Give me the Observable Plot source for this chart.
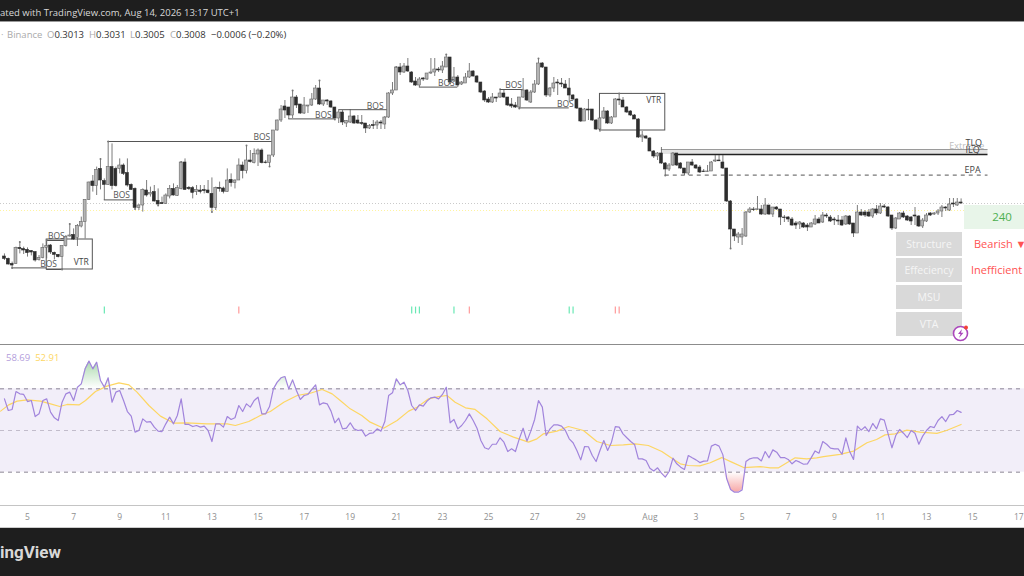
<!DOCTYPE html>
<html>
<head>
<meta charset="utf-8">
<script src="https://cdn.jsdelivr.net/npm/d3@7"></script>
<script src="https://cdn.jsdelivr.net/npm/@observablehq/plot@0.6"></script>
<style>
html,body{margin:0;padding:0;background:#fff;width:1024px;height:576px;overflow:hidden;font-family:"Open Sans",sans-serif}
#page{position:relative;width:1024px;height:576px;overflow:hidden}
#head{position:absolute;left:0;top:0;width:1024px;height:21px;background:#1e1e1e;color:#d8d8d8;font-size:9.5px;line-height:25px;white-space:nowrap;border-bottom:1px solid #999}
#foot{position:absolute;left:0;top:527px;width:1024px;height:49px;background:#1e1e1e;border-top:1px solid #ccc;box-sizing:border-box;color:#d8d8d8;font:700 17px/48px Roboto,sans-serif}
#legend{position:absolute;left:0;top:28px;height:14px;font-size:9.5px;line-height:14px;color:#333;white-space:nowrap}
#legend span{position:absolute;top:0}
#legend .g{color:#aaa}
#priceWrap,#rsiWrap{position:absolute;left:0}
#priceWrap{top:22px}
#rsiWrap{top:345px}
#sep{position:absolute;left:0;top:344px;width:1024px;height:1px;background:#8c8c8c}
#axisline{position:absolute;left:0;top:505px;width:1024px;height:1px;background:#c4c4c4}
#rsiLegend{position:absolute;left:6px;top:351px;font-size:9.5px;line-height:14px;white-space:nowrap}
.cell{position:absolute;left:896px;width:66px;height:24px;background:#d9d9d9;color:#f5f5f5;font-size:10.5px;line-height:24px;text-align:center}
.val{position:absolute;color:#ff5252;font-size:11px;line-height:24px;white-space:nowrap}
#tf{position:absolute;left:964px;top:205px;width:60px;height:24px;background:#e8f5e9;color:#4caf50;font-size:11.5px;line-height:24px;text-align:center;padding-left:16px;box-sizing:border-box}
#bolt{position:absolute;left:951px;top:323px}
</style>
</head>
<body>
<div id="page">
  <div id="head">ated with TradingView.com, Aug 14, 2026 13:17 UTC+1</div>
  <div id="priceWrap"></div>
  <div id="legend">
    <span class="g" style="left:1px">·</span><span class="g" style="left:7px">Binance</span>
    <span style="left:47px"><i class="g" style="font-style:normal">O</i>0.3013</span>
    <span style="left:89px"><i class="g" style="font-style:normal">H</i>0.3031</span>
    <span style="left:130px"><i class="g" style="font-style:normal">L</i>0.3005</span>
    <span style="left:170px"><i class="g" style="font-style:normal">C</i>0.3008</span>
    <span style="left:211px">−0.0006 (−0.20%)</span>
  </div>
  <div id="tf">240</div>
  <div class="cell" style="top:232px">Structure</div>
  <div class="cell" style="top:258px">Effeciency</div>
  <div class="cell" style="top:285px">MSU</div>
  <div class="cell" style="top:312px">VTA</div>
  <div class="val" style="left:974px;top:232px">Bearish ▼</div>
  <div class="val" style="left:971px;top:258px">Inefficient</div>
  <svg id="bolt" width="20" height="20" viewBox="0 0 20 20">
    <circle cx="9.5" cy="10.5" r="7" fill="#fff" stroke="#ab47bc" stroke-width="1.6"/>
    <path d="M11 6 L7 11 L9.5 11 L8 15 L12.5 9.8 L10 9.8 Z" fill="#ab47bc"/>
    <circle cx="15" cy="4.5" r="2" fill="#f44336"/>
  </svg>
  <div id="sep"></div>
  <div id="rsiWrap"></div>
  <div id="axisline"></div>
  <div id="rsiLegend"><span style="color:#b39ddb">58.69</span>&nbsp;&nbsp;<span style="color:#fdd663">52.91</span></div>
  <div id="foot">ingView</div>
</div>
<script>
// 4-hour candles, prices in ten-thousandths (2743 = 0.2743). Candle index 0 = Jul 4 00:00.
const opens = [
2743,2731,2706,2706,2786,2780,2776,2770,2765,2726,
2736,2786,2798,2761,2751,2740,2795,2843,2851,2836,
2893,2915,3026,3118,3095,3181,3120,3101,3190,3181,
3181,3198,3160,3101,3081,2986,2998,3073,3053,3065,
3021,3010,3006,3043,3081,3046,3081,3213,3086,3085,
3065,3073,3075,3073,3056,2986,3086,3083,3066,3126,
3111,3123,3198,3170,3223,3210,3253,3273,3213,3211,
3248,3373,3423,3493,3488,3448,3538,3503,3458,3493,
3498,3528,3583,3503,3523,3518,3488,3433,3463,3408,
3413,3443,3423,3410,3408,3383,3400,3398,3413,3403,
3438,3558,3573,3688,3663,3693,3663,3618,3598,3633,
3628,3658,3663,3678,3673,3688,3738,3618,3638,3603,
3608,3638,3668,3643,3613,3568,3528,3513,3538,3538,
3558,3538,3503,3498,3488,3538,3573,3513,3563,3603,
3708,3688,3548,3583,3613,3608,3603,3583,3548,3528,
3483,3418,3478,3478,3423,3378,3433,3468,3408,3438,
3528,3523,3488,3468,3448,3428,3338,3343,3333,3268,
3243,3258,3208,3178,3198,3258,3208,3183,3158,3213,
3198,3188,3168,3165,3168,3218,3223,3213,3183,3018,
2878,2838,2838,2843,2963,2978,2975,2978,2953,2998,
2953,2988,2978,2938,2938,2928,2908,2903,2908,2898,
2888,2903,2928,2913,2948,2938,2928,2923,2923,2903,
2943,2908,2858,2963,2963,2963,2943,2978,2958,2993,
2988,2948,2883,2928,2958,2943,2938,2948,2943,2893,
2918,2958,2953,2958,2968,2988,2973,3008,2998,3013];
const highs = [
2756,2735,2715,2790,2815,2790,2786,2773,2765,2748,
2806,2826,2803,2765,2753,2795,2848,2906,2881,2903,
2940,3026,3115,3148,3190,3231,3131,3318,3306,3190,
3231,3206,3231,3106,3086,3003,3081,3123,3090,3098,
3081,3040,3056,3098,3106,3098,3215,3231,3093,3093,
3098,3098,3098,3123,3136,3090,3115,3090,3181,3156,
3126,3231,3215,3298,3273,3281,3281,3281,3223,3248,
3373,3425,3498,3523,3488,3573,3548,3503,3538,3498,
3558,3598,3623,3523,3528,3523,3488,3473,3473,3423,
3478,3448,3448,3448,3408,3403,3423,3423,3423,3443,
3563,3613,3690,3708,3708,3733,3668,3638,3638,3638,
3658,3733,3733,3688,3718,3753,3738,3688,3648,3618,
3658,3708,3673,3648,3613,3573,3538,3558,3538,3583,
3573,3538,3533,3513,3538,3633,3578,3573,3623,3733,
3713,3688,3588,3638,3628,3633,3623,3633,3553,3533,
3483,3483,3528,3478,3428,3438,3488,3473,3443,3533,
3558,3538,3493,3473,3453,3433,3368,3348,3338,3273,
3263,3288,3213,3208,3263,3258,3213,3183,3213,3228,
3203,3198,3178,3198,3218,3248,3248,3248,3183,3023,
2878,2863,2883,2968,2988,2988,3043,2998,3033,2998,
2988,2993,2978,2948,2943,2938,2918,2918,2913,2908,
2913,2948,2938,2963,2958,2948,2938,2948,2943,2948,
2948,2908,2998,2978,2973,2978,2983,2998,3008,3003,
2993,2948,2938,2963,2968,2948,2943,2988,2948,2933,
2958,2963,2963,2978,2998,2993,3033,3033,3033,3031];
const lows = [
2723,2700,2686,2703,2756,2753,2740,2746,2715,2720,
2731,2731,2753,2726,2736,2678,2790,2840,2823,2793,
2886,2831,3023,3065,3048,3076,3023,3098,3076,3090,
3156,3148,3090,3073,2981,2973,2965,3040,3040,3015,
2998,3003,3003,3031,3045,3043,3076,3073,3073,3031,
3048,3056,3056,3056,2965,2973,3065,3056,3065,3090,
3081,3123,3131,3156,3210,3206,3193,3206,3206,3193,
3238,3370,3413,3433,3428,3433,3483,3453,3453,3458,
3493,3523,3498,3493,3498,3483,3428,3408,3398,3388,
3408,3403,3403,3398,3358,3378,3378,3378,3378,3378,
3433,3548,3573,3648,3658,3663,3608,3593,3588,3618,
3623,3653,3643,3663,3658,3688,3608,3613,3588,3598,
3608,3633,3640,3608,3558,3513,3508,3508,3513,3533,
3533,3493,3483,3483,3483,3533,3518,3508,3558,3598,
3683,3538,3538,3563,3548,3588,3583,3513,3523,3478,
3413,3418,3423,3418,3373,3363,3428,3403,3403,3438,
3498,3488,3458,3443,3428,3333,3313,3328,3268,3233,
3223,3203,3148,3168,3193,3193,3178,3148,3148,3193,
3178,3158,3163,3163,3168,3213,3218,3178,3013,2783,
2818,2808,2798,2838,2958,2968,2973,2948,2948,2948,
2938,2973,2898,2913,2913,2893,2878,2878,2883,2868,
2888,2898,2908,2908,2933,2913,2898,2898,2893,2898,
2898,2838,2858,2943,2938,2938,2933,2948,2953,2983,
2938,2873,2878,2928,2933,2918,2898,2898,2888,2883,
2913,2943,2948,2948,2938,2968,2968,2988,2993,3005];
const closes = [
2731,2703,2698,2786,2780,2773,2760,2763,2723,2736,
2786,2795,2763,2751,2740,2795,2840,2848,2828,2896,
2915,3026,3113,3095,3176,3123,3101,3190,3095,3095,
3198,3156,3098,3076,2986,2998,3076,3048,3061,3018,
3003,3005,3048,3081,3048,3086,3213,3076,3080,3061,
3076,3066,3070,3060,2986,3086,3081,3066,3123,3110,
3123,3198,3170,3223,3215,3256,3273,3210,3210,3248,
3373,3423,3478,3473,3448,3538,3498,3458,3498,3498,
3528,3583,3503,3523,3518,3488,3433,3463,3413,3420,
3443,3408,3408,3406,3383,3395,3395,3413,3408,3438,
3558,3573,3688,3663,3693,3668,3613,3598,3628,3628,
3658,3663,3678,3673,3693,3738,3613,3638,3598,3613,
3638,3668,3643,3613,3563,3523,3513,3538,3533,3558,
3538,3498,3493,3488,3538,3573,3523,3563,3603,3708,
3688,3548,3583,3608,3608,3603,3583,3548,3528,3483,
3418,3478,3473,3423,3378,3433,3468,3408,3438,3528,
3523,3488,3463,3448,3428,3338,3348,3333,3268,3243,
3258,3208,3178,3198,3258,3198,3183,3158,3213,3198,
3183,3163,3165,3168,3213,3223,3219,3183,3018,2878,
2843,2853,2853,2963,2978,2975,2979,2953,2998,2953,
2988,2978,2938,2935,2928,2898,2898,2913,2888,2888,
2908,2928,2908,2948,2943,2918,2923,2918,2898,2943,
2903,2858,2963,2948,2948,2943,2978,2958,2993,2988,
2943,2883,2933,2958,2938,2923,2918,2943,2893,2923,
2948,2948,2958,2968,2988,2983,3003,3003,3013,3008];

// RSI for every candle
const rsi = [
65.2,59.6,60.1,68.7,67.6,67.3,63.9,64.4,56.7,58.0,
64.4,65.2,58.8,56.1,54.8,63.6,67.6,68.4,64.4,70.8,
72.4,79.6,83.3,79.6,82.8,74.0,70.8,75.3,63.6,68.4,
69.2,64.4,59.1,56.9,49.2,50.0,55.6,54.0,54.3,51.6,
49.7,49.5,53.2,56.4,53.2,57.2,65.2,52.9,52.9,51.9,
52.4,51.6,52.1,50.0,44.7,53.2,53.2,51.6,56.7,55.3,
56.1,62.0,59.1,62.8,61.2,64.4,66.0,58.0,58.0,61.5,
70.0,73.2,75.3,75.9,70.0,74.3,69.2,64.9,66.8,67.3,
69.7,71.9,62.3,63.3,62.8,59.3,53.7,55.9,50.8,51.1,
53.7,50.8,50.0,50.3,47.3,48.6,48.9,50.8,49.7,54.3,
66.8,68.1,74.8,71.9,73.2,69.2,62.0,59.6,62.3,61.7,
64.1,65.7,66.0,65.2,67.3,70.8,53.7,55.3,50.8,52.4,
54.8,58.0,54.8,51.1,45.2,41.7,41.0,43.4,43.4,46.5,
44.4,39.9,41.2,39.9,46.0,51.1,44.9,49.7,55.3,64.4,
61.2,47.6,50.8,52.7,52.7,52.1,50.0,46.0,44.1,40.4,
35.9,42.3,42.2,38.0,35.1,40.4,45.2,40.4,44.4,51.9,
51.6,48.4,46.5,44.7,43.3,36.4,36.4,35.6,31.9,30.6,
32.1,29.5,27.6,30.3,36.7,34.0,32.4,31.3,38.0,36.9,
35.9,34.6,35.3,35.4,42.5,43.4,42.5,38.3,26.8,21.7,
20.4,20.4,21.5,35.1,36.4,36.9,36.9,35.4,39.9,36.9,
40.7,39.6,37.0,37.0,36.1,34.0,35.6,34.8,33.8,34.0,
37.0,40.2,39.1,44.7,43.4,41.5,41.2,41.2,38.6,46.5,
39.9,36.1,52.1,50.2,51.8,49.5,53.4,50.8,55.6,55.0,
48.4,41.7,47.6,50.5,48.7,46.6,50.0,48.7,43.4,47.3,
50.0,51.9,51.4,54.8,56.7,54.3,57.5,57.7,59.6,58.69];

// RSI moving average, read at its bends
const maAt = [-1,1.1,3.3,5.9,9.4,12,14.4,16.3,19.4,21.1,23.7,26.7,29.8,32.4,34.5,37.6,40.6,44.1,47.5,52.7,58,60.1,63.6,66.6,69.2,72.7,76.2,79.6,82.7,85.3,
87.4,90,93,95.2,98.7,102.2,105.2,107.4,110.4,113,115.2,117.3,120,122.5,125.6,129,132.5,136.4,138.6,140.3,143.8,146.8,150.7,154.2,157.7,161.1,164.2,167.6,171.1,174.2,
175.9,178,181,183.7,186.7,189.3,192.4,196.7,199.3,201.5,205.8,208.8,211.4,213.2,217.5,221,224.5,227,229.2,231.8,234.9,238.3,242.7,245.2,249];
const maVal = [59.3,62.3,64.1,64.7,64.1,62.8,61.5,62.5,62.3,64.4,68.7,71.3,72.9,71.9,68.4,62,56.9,53.5,53.7,53.2,53.2,52.4,54.3,57.2,59.1,63.6,66.8,67.9,69.7,67.6,
64.4,60.4,57.2,54,51.1,54.8,59.3,61.2,65.2,66.3,66.8,63.6,60.9,60.1,55.6,49.5,46.8,44.4,46,48.4,49.7,51.9,50,44.7,42.8,43.1,43.6,42.8,39.9,36.1,
34,33.2,33,34.5,37,34.8,32.2,32.7,32.1,32.1,36.9,36.4,36.9,37.5,38.5,40.1,44.1,45.7,47.9,48.4,50.2,49.2,48.6,50,52.91];

// Break-of-structure lines: from candle, to candle, price
const bosFrom  = [2,11,11,26,27,74,87,108,129,134];
const bosTo    = [11,15,16,34,70,86,100,118,135,147];
const bosPrice = [2686,2678,2823,3026,3318,3431,3477,3590,3578,3486];
const bosTextAt    = [null,11.5,13.5,30.5,67,83,96.5,115,132.5,146];
const bosTextPrice = [null,2705,2845,3048,3340,3448,3495,3610,3598,3505];

// Volume-trend boxes
const vtrFrom = [11,155];
const vtrTo   = [23,172];
const vtrLow  = [2678,3373];
const vtrHigh = [2828,3556];
const vtrTextAt = [20,169];
const vtrTextPrice = [2715,3525];

// Liquidity levels on the right
const levelEnd = 256;
const bandFrom = 171, bandHigh = 3278, bandLow = 3253;
const ilqFrom = 174, ilqPrice = 3253;
const epaFrom = 172, epaPrice = 3150;
const levelLabels = ["Extreme","TLQ","ILQ","EPA"];
const levelLabelPrice = [3296,3308,3277,3177];
const levelLabelAt = [250.5,252.3,252,252];

const lastPrice = 3008, linePrice = 2973;

// Signal ticks
const upSignals = [26,106,107,108,117,147,148];
const downSignals = [61,121,159,160];
const signalLow = 2456, signalHigh = 2490;

// Pivot dots
const highPivots = [4,11,17,25,27,46,63,75,82,102,115,139,160];
const lowPivots = [2,15,34,40,54,69,86,116,134,189,172];

// Time axis
const tickCandles = [6,18,30,42,54,66,78,90,102,114,126,138,150,168,180,192,204,216,228,240,252,264];
const tickLabels = ["5","7","9","11","13","15","17","19","21","23","25","27","29","Aug","3","5","7","9","11","13","15","17"];

const P = v => v / 10000;
const candles = opens.map((o, i) => ({i, o: P(o), h: P(highs[i]), l: P(lows[i]), c: P(closes[i])}));
const upCandles = candles.filter(d => d.c >= d.o);
const downCandles = candles.filter(d => d.c < d.o);
const xDomain = [-1.028, 265.5];
const FONT = '"Open Sans",sans-serif';
const bos = bosFrom.map((f, i) => ({f, t: bosTo[i], p: P(bosPrice[i])}));
const bosText = bosTextAt.map((x, i) => ({x, p: P(bosTextPrice[i])})).filter(d => d.x != null);
const vtr = vtrFrom.map((f, i) => ({f, t: vtrTo[i], lo: P(vtrLow[i]), hi: P(vtrHigh[i]), tx: vtrTextAt[i], tp: P(vtrTextPrice[i])}));

const priceChart = Plot.plot({
  width: 1024, height: 322,
  marginTop: 0, marginBottom: 0, marginLeft: 0, marginRight: 0,
  style: {background: "transparent", fontFamily: FONT},
  x: {domain: xDomain, range: [0, 1024], axis: null},
  y: {domain: [0.2303, 0.3913], range: [322, 0], axis: null},
  marks: [
    Plot.ruleY([P(lastPrice)], {stroke: "#bdbdbd", strokeDasharray: "1,2", strokeWidth: 0.8}),
    Plot.ruleY([P(linePrice)], {stroke: "#fff3a0", strokeDasharray: "1,2", strokeWidth: 1}),
    Plot.rect([0], {x1: bandFrom, x2: levelEnd, y1: P(bandLow), y2: P(bandHigh), fill: "#e4e4e4"}),
    Plot.ruleY([P(bandHigh)], {x1: bandFrom, x2: levelEnd, stroke: "#9a9a9a", strokeWidth: 1}),
    Plot.ruleY([P(ilqPrice)], {x1: ilqFrom, x2: levelEnd, stroke: "#222", strokeWidth: 1.4}),
    Plot.ruleY([P(epaPrice)], {x1: epaFrom, x2: levelEnd, stroke: "#555", strokeWidth: 1, strokeDasharray: "4,4"}),
    Plot.ruleY(bos, {x1: "f", x2: "t", y: "p", stroke: "#555", strokeWidth: 1}),
    Plot.rect(vtr, {x1: "f", x2: "t", y1: "lo", y2: "hi", fill: "none", stroke: "#555", strokeWidth: 1}),
    Plot.ruleX(candles, {x: "i", y1: "l", y2: "h", stroke: "#5a5a5a", strokeWidth: 0.8}),
    Plot.rect(upCandles, {x1: d => d.i - 0.38, x2: d => d.i + 0.38, y1: "o", y2: "c", fill: "#b4b4b4", stroke: "#666", strokeWidth: 0.6}),
    Plot.rect(downCandles, {x1: d => d.i - 0.38, x2: d => d.i + 0.38, y1: "o", y2: "c", fill: "#2e2e2e", stroke: "#2e2e2e", strokeWidth: 0.6}),
    Plot.dot(highPivots.map(i => candles[i]), {x: "i", y: "h", r: 1, fill: "#777"}),
    Plot.dot(lowPivots.map(i => candles[i]), {x: "i", y: "l", r: 1, fill: "#777"}),
    Plot.text(bosText, {x: "x", y: "p", text: () => "BOS", fontSize: 8.5, fill: "#555"}),
    Plot.text(vtr, {x: "tx", y: "tp", text: () => "VTR", fontSize: 8.5, fill: "#444"}),
    Plot.text(levelLabels, {x: (d, i) => levelLabelAt[i], y: (d, i) => P(levelLabelPrice[i]), text: d => d, fontSize: 9,
      fill: d => d === "Extreme" ? "#bdbdbd" : "#444"}),
    Plot.ruleX(upSignals, {x: d => d, y1: P(signalLow), y2: P(signalHigh), stroke: "#69e8b4", strokeWidth: 1.2}),
    Plot.ruleX(downSignals, {x: d => d, y1: P(signalLow), y2: P(signalHigh), stroke: "#ff9a9a", strokeWidth: 1.2})
  ]
});
document.getElementById("priceWrap").appendChild(priceChart);

const rsiRows = rsi.map((v, i) => ({i, v, hi: Math.max(v, 70), lo: Math.min(v, 30)}));
const ma = maAt.map((x, i) => ({x, v: maVal[i]}));
const defs = () => {
  const s = d3.create("svg:defs");
  const a = s.append("linearGradient").attr("id", "obGrad").attr("x1", 0).attr("y1", 0).attr("x2", 0).attr("y2", 1);
  a.append("stop").attr("offset", "0%").attr("stop-color", "#66bb6a").attr("stop-opacity", 0.55);
  a.append("stop").attr("offset", "100%").attr("stop-color", "#66bb6a").attr("stop-opacity", 0);
  const b = s.append("linearGradient").attr("id", "osGrad").attr("x1", 0).attr("y1", 0).attr("x2", 0).attr("y2", 1);
  b.append("stop").attr("offset", "0%").attr("stop-color", "#ef5350").attr("stop-opacity", 0);
  b.append("stop").attr("offset", "100%").attr("stop-color", "#ef5350").attr("stop-opacity", 0.5);
  return s.node();
};
const rsiChart = Plot.plot({
  width: 1024, height: 182,
  marginTop: 0, marginBottom: 0, marginLeft: 0, marginRight: 0,
  style: {background: "transparent", fontFamily: FONT},
  x: {domain: xDomain, range: [0, 1024], axis: null},
  y: {domain: [50 - (182 - 85) / 2.083, 50 + 85 / 2.083], range: [182, 0], axis: null},
  marks: [
    defs,
    Plot.rect([0], {x1: xDomain[0], x2: xDomain[1], y1: 30, y2: 70, fill: "#7e57c2", fillOpacity: 0.1}),
    Plot.ruleY([70, 30], {stroke: "#8a8494", strokeDasharray: "4,4", strokeWidth: 1}),
    Plot.ruleY([50], {stroke: "#c2bccb", strokeDasharray: "4,4", strokeWidth: 1}),
    Plot.areaY(rsiRows, {x: "i", y1: () => 70, y2: "hi", fill: "url(#obGrad)"}),
    Plot.areaY(rsiRows, {x: "i", y1: () => 30, y2: "lo", fill: "url(#osGrad)"}),
    Plot.line(ma, {x: "x", y: "v", stroke: "#fdd663", strokeWidth: 1.2}),
    Plot.line(rsiRows, {x: "i", y: "v", stroke: "#a184dc", strokeWidth: 1.2}),
    Plot.text(tickCandles, {x: d => d, y: () => 50 - (172 - 85) / 2.083, text: (d, i) => tickLabels[i], fontSize: 8.5, fill: "#8f8f8f",
      fontWeight: (d, i) => tickLabels[i] === "Aug" ? 600 : 400})
  ]
});
document.getElementById("rsiWrap").appendChild(rsiChart);
</script>
</body>
</html>
